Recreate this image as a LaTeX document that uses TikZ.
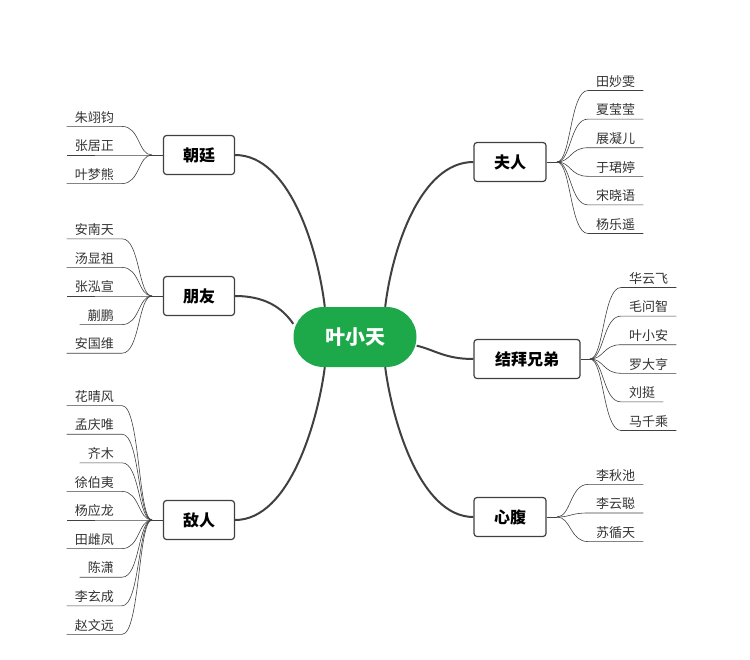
\documentclass[tikz,border=0pt]{standalone}
\usepackage{fontspec}
\setmainfont{Noto Sans CJK SC}
\usetikzlibrary{positioning}

\definecolor{rootgreen}{RGB}{29,168,74}
\definecolor{linegray}{RGB}{64,64,64}

\begin{document}
\begin{tikzpicture}[
    x=1pt, y=-1pt,
    root/.style={rectangle, fill=rootgreen, rounded corners=30pt, minimum width=123pt, minimum height=60pt, text=white, font=\fontsize{20}{24}\selectfont\bfseries},
    topic/.style={rectangle, draw=linegray, line width=1.2pt, fill=white, rounded corners=3pt, minimum height=39pt, inner xsep=10pt, font=\fontsize{16}{19}\selectfont\bfseries},
    leafl/.style={anchor=south east, inner xsep=8pt, inner ysep=3pt, font=\fontsize{13}{15}\selectfont, text=black!80},
    leafr/.style={anchor=south west, inner xsep=8pt, inner ysep=3pt, font=\fontsize{13}{15}\selectfont, text=black!80},
    mainline/.style={draw=linegray, line width=2pt},
    leafline/.style={draw=linegray, line width=0.6pt}
]
\useasboundingbox (0,0) rectangle (750,659);

% Center and topics
\node[root] (root) at (355,337) {叶小天};
\node[topic, minimum width=71pt] (chao) at (199,155) {朝廷};
\node[topic, minimum width=71pt] (peng) at (199,296) {朋友};
\node[topic, minimum width=71pt] (di) at (199,520) {敌人};
\node[topic, minimum width=72pt] (fu) at (510,162) {夫人};
\node[topic, minimum width=106pt] (jie) at (527,359) {结拜兄弟};
\node[topic, minimum width=72pt] (xin) at (510,517) {心腹};

% Main branches
\draw[mainline] (chao.east) .. controls (290,155) and (318,250) .. (root.135);
\draw[mainline] (peng.east) .. controls (270,296) and (285,312) .. (root.168);
\draw[mainline] (di.east) .. controls (290,520) and (318,420) .. (root.-135);
\draw[mainline] (fu.west) .. controls (420,162) and (392,250) .. (root.45);
\draw[mainline] (jie.west) .. controls (445,359) and (435,350) .. (root.-8);
\draw[mainline] (xin.west) .. controls (420,517) and (392,420) .. (root.-45);

% Fork points
\coordinate (chaof) at (152,155);
\coordinate (pengf) at (152,296);
\coordinate (dif) at (152,520);
\coordinate (fuf) at (557,162);
\coordinate (jief) at (590,359);
\coordinate (xinf) at (557,517);
\draw[leafline] (chao.west) -- (chaof);
\draw[leafline] (peng.west) -- (pengf);
\draw[leafline] (di.west) -- (dif);
\draw[leafline] (fu.east) -- (fuf);
\draw[leafline] (jie.east) -- (jief);
\draw[leafline] (xin.east) -- (xinf);

% Left leaves
\foreach \nm [count=\i] in {朱翊钧,张居正,叶梦熊} {
  \pgfmathsetmacro\yy{155+(\i-2)*28.6}
  \node[leafl] (chao\i) at (122,\yy) {\nm};
  \draw[leafline] (chaof) .. controls +(-14,0) and +(18,0) .. (chao\i.south east) -- (chao\i.south west);
}
\foreach \nm [count=\i] in {安南天,汤显祖,张泓宣,蒯鹏,安国维} {
  \pgfmathsetmacro\yy{296+(\i-3)*28.6}
  \node[leafl] (peng\i) at (122,\yy) {\nm};
  \draw[leafline] (pengf) .. controls +(-14,0) and +(18,0) .. (peng\i.south east) -- (peng\i.south west);
}
\foreach \nm [count=\i] in {花晴风,孟庆唯,齐木,徐伯夷,杨应龙,田雌凤,陈潇,李玄成,赵文远} {
  \pgfmathsetmacro\yy{520+(\i-5)*28.6}
  \node[leafl] (di\i) at (122,\yy) {\nm};
  \draw[leafline] (dif) .. controls +(-14,0) and +(18,0) .. (di\i.south east) -- (di\i.south west);
}

% Right leaves
\foreach \nm [count=\i] in {田妙雯,夏莹莹,展凝儿,于珺婷,宋晓语,杨乐遥} {
  \pgfmathsetmacro\yy{162+(\i-3.5)*28.6}
  \node[leafr] (fu\i) at (588,\yy) {\nm};
  \draw[leafline] (fuf) .. controls +(14,0) and +(-18,0) .. (fu\i.south west) -- (fu\i.south east);
}
\foreach \nm [count=\i] in {华云飞,毛问智,叶小安,罗大亨,刘挺,马千乘} {
  \pgfmathsetmacro\yy{359+(\i-3.5)*28.6}
  \node[leafr] (jie\i) at (621,\yy) {\nm};
  \draw[leafline] (jief) .. controls +(14,0) and +(-18,0) .. (jie\i.south west) -- (jie\i.south east);
}
\foreach \nm [count=\i] in {李秋池,李云聪,苏循天} {
  \pgfmathsetmacro\yy{513+(\i-2)*28.6}
  \node[leafr] (xin\i) at (588,\yy) {\nm};
  \draw[leafline] (xinf) .. controls +(14,0) and +(-18,0) .. (xin\i.south west) -- (xin\i.south east);
}
\end{tikzpicture}
\end{document}
